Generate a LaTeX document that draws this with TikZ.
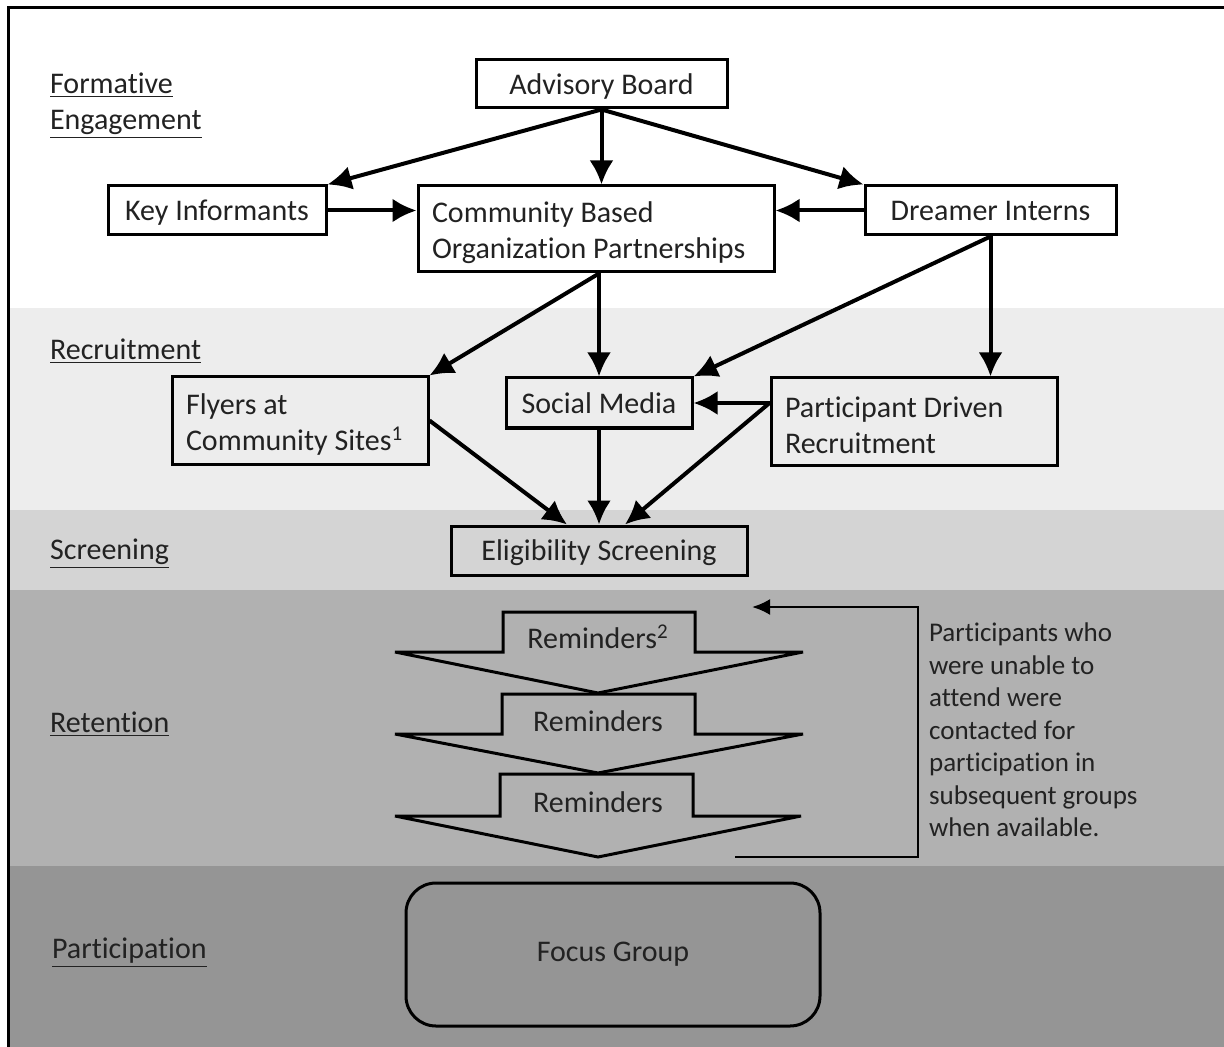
\documentclass[tikz,border=0pt]{standalone}
\usepackage{fontspec}
\setmainfont{Carlito}[Ligatures=NoCommon]
\usepackage{tikz}
\usetikzlibrary{calc}
\usetikzlibrary{arrows.meta}
\definecolor{recruit}{HTML}{EDEDED}
\definecolor{screen}{HTML}{D4D4D4}
\definecolor{retain}{HTML}{B1B1B1}
\definecolor{partic}{HTML}{959595}
\definecolor{ink}{HTML}{222222}
\def\lw{1.5pt}

\begin{document}
\begin{tikzpicture}[x=0.5pt, y=-0.5pt,
  >={Latex[length=12pt, width=12pt]},
  every node/.style={text=ink, font=\fontsize{15}{18}\selectfont},
  box/.style={draw=black, line width=\lw, inner sep=0pt, align=center, text depth=0pt},
  lbox/.style={box, align=flush left, inner xsep=7pt, text depth=, text height=14.5pt},
  stage/.style={anchor=west, align=flush left},
  link/.style={->, line width=2pt},
  remind/.style={draw=black, line width=\lw, line join=miter}]
\useasboundingbox (0,0) rectangle (1224,1047);

% bands
\fill[recruit] (8,308) rectangle (1224,510);
\fill[screen] (8,510) rectangle (1224,590);
\fill[retain] (8,590) rectangle (1224,866);
\fill[partic] (8,866) rectangle (1224,1047);
\draw[line width=1.5pt] (8,1047) -- (8,8) -- (1224,8);

% stage labels
\node[stage] (formative) at (43,106) {\underline{Formative}\\\underline{Engagement}};
\node[stage] (recruitment) at (43,351) {\underline{Recruitment}};
\node[stage] (screening) at (43,554) {\underline{Screening}};
\node[stage] (retention) at (43,724) {\underline{Retention}};
\node[stage] (participation) at (45,953) {\underline{Participation}};

% boxes
\node[box, minimum width=125.5pt, minimum height=24pt] (adv) at (601.5,84) {Advisory Board};
\node[box, minimum width=109pt, minimum height=24.5pt] (ki) at (217,210.5) {Key Informants};
\node[lbox, text width=164pt, minimum height=43pt] (cbo) at (596,229) {Community Based\\Organization Partnerships};
\node[box, minimum width=125.5pt, minimum height=24.5pt] (di) at (990.5,210.5) {Dreamer Interns};
\node[lbox, text width=114pt, minimum height=43.5pt] (fly) at (300,420.5) {Flyers at\\Community Sites\textsuperscript{1}};
\node[box, minimum width=93pt, minimum height=25pt] (sm) at (599,403) {Social Media};
\node[lbox, text width=129pt, minimum height=43.5pt] (pdr) at (914,421.5) {Participant Driven\\Recruitment};
\node[box, minimum width=148pt, minimum height=24.5pt] (elig) at (599,550.5) {Eligibility Screening};
\node[box, text depth=, rounded corners=15pt, minimum width=207pt, minimum height=71.5pt] (fg) at (613,954.5) {Focus Group};

% edges
\coordinate (cboS) at (cbo.south -| sm.north);
\coordinate (pdrW) at (pdr.west |- sm.east);
\draw[link] (adv.south) -- (ki.north east);
\draw[link] (adv.south) -- (adv.south |- cbo.north);
\draw[link] (adv.south) -- (di.north west);
\draw[link] (ki.east) -- (ki.east -| cbo.west);
\draw[link] (di.west) -- (di.west -| cbo.east);
\draw[link] (cboS) -- (fly.north east);
\draw[link] (cboS) -- (sm.north);
\draw[link] (di.south) -- (sm.north east);
\draw[link] (di.south) -- (di.south |- pdr.north);
\draw[link] (pdrW) -- (sm.east);
\draw[link] (fly.east) -- ($(elig.north)+(-32,0)$);
\draw[link] (sm.south) -- (elig.north);
\draw[link] (pdrW) -- ($(elig.north)+(26,0)$);

% reminders
\draw[remind] (503,612) -- (695,612) -- (695,652) -- (803,652) -- (598,693) -- (395,652) -- (503,652) -- cycle;
\draw[remind] (502,694) -- (695,694) -- (695,734) -- (803,734) -- (598,773) -- (395,734) -- (502,734) -- cycle;
\draw[remind] (500,774) -- (693,774) -- (693,816) -- (801,816) -- (598,857) -- (395,816) -- (500,816) -- cycle;
\node (rem1) at (598,637) {Reminders\textsuperscript{2}};
\node (rem2) at (598,721) {Reminders};
\node (rem3) at (598,802) {Reminders};

% loop back
\coordinate (loopS) at (735,857);
\coordinate (loopE) at (752,607);
\draw[->, line width=1.2pt, >={Latex[length=9pt, width=8pt]}] (loopS) -- (918,857) |- (loopE);
\node[anchor=west, align=flush left, font=\fontsize{13.5}{16.25}\selectfont] (note) at (922,730)
  {Participants who\\were unable to\\attend were\\contacted for\\participation in\\subsequent groups\\when available.};

\end{tikzpicture}
\end{document}
